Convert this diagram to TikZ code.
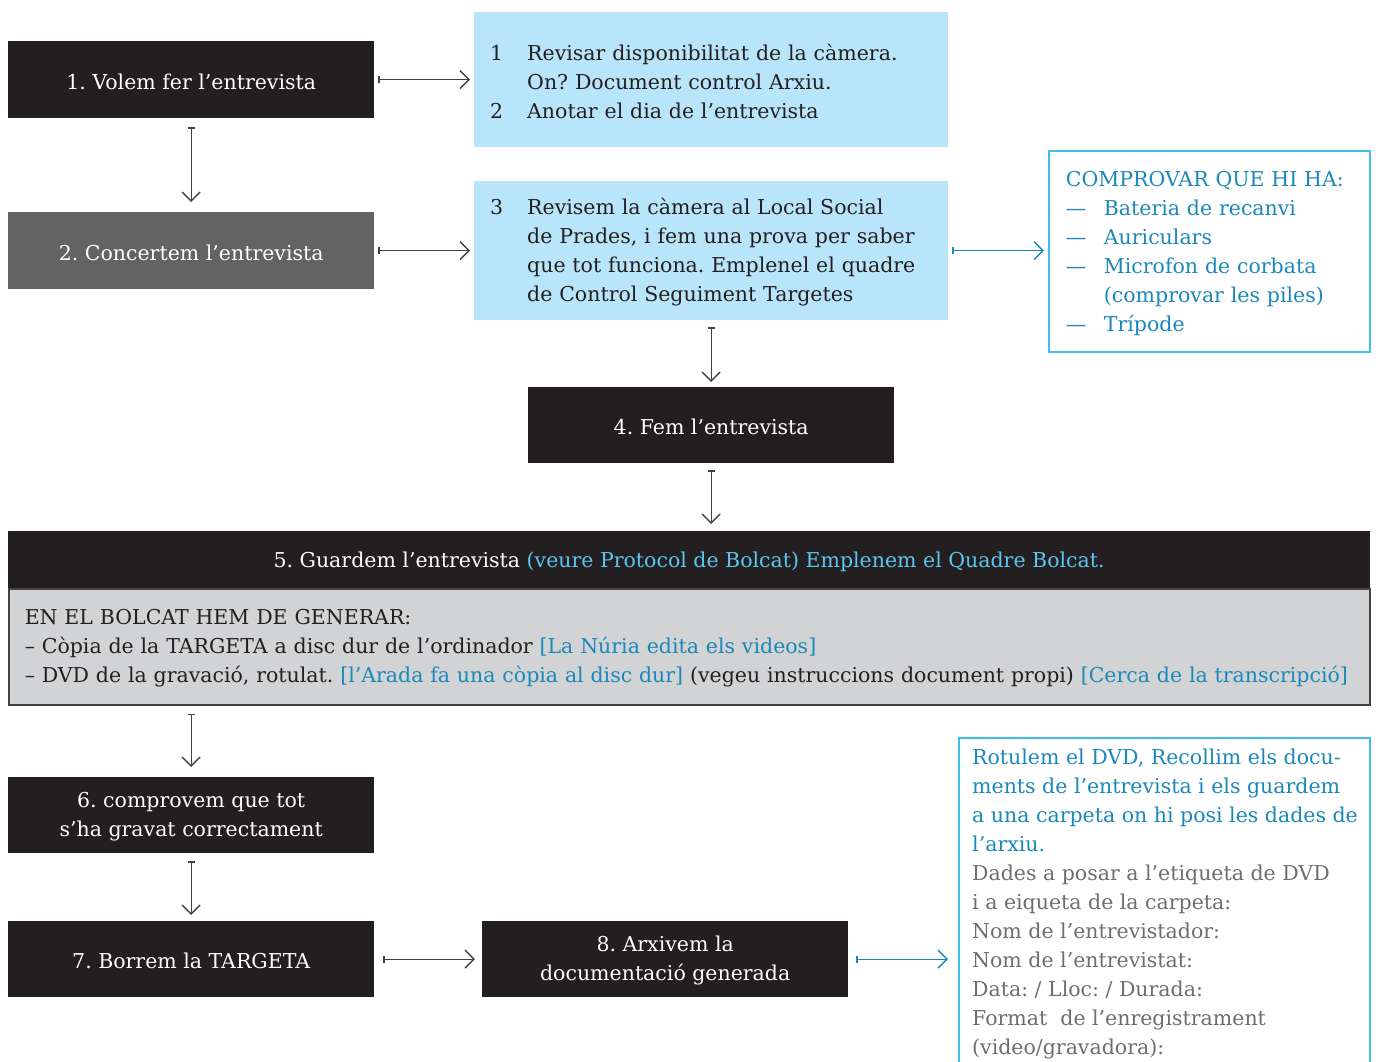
\documentclass[tikz,border=0pt]{standalone}
\usepackage{fontspec}
\setmainfont{DejaVu Serif}
\usetikzlibrary{arrows.meta}
\definecolor{dk}{HTML}{231F20}
\definecolor{grtwo}{HTML}{636364}
\definecolor{lb}{HTML}{B9E5FA}
\definecolor{bd}{HTML}{3EC0EF}
\definecolor{bl}{HTML}{1B88BA}
\definecolor{hb}{HTML}{5BC6EE}
\definecolor{bodyg}{HTML}{D1D3D4}
\definecolor{dg}{HTML}{6D6E70}
\newcommand\bodyfnt{\fontsize{20.5}{29}\selectfont\frenchspacing}
\tikzset{
 blk/.style={fill=dk, text=white, inner sep=0pt, minimum width=366pt, minimum height=77pt, anchor=north west, align=center, font=\bodyfnt},
 lbox/.style={fill=lb, text=dk, anchor=north west, inner xsep=16pt, inner ysep=0pt, text width=442pt, align=left, font=\bodyfnt},
 cbox/.style={draw=bd, line width=1.8pt, fill=white, anchor=north west, inner xsep=16pt, inner ysep=0pt, align=left, font=\bodyfnt, text=bl},
 arr/.style={draw=dk!85, line width=1.4pt, {Bar[width=7pt]}-{Straight Barb[length=9pt,width=18pt]}},
 barr/.style={arr, draw=bl},
}
\begin{document}
\begin{tikzpicture}[x=1pt,y=-1pt]
\useasboundingbox (0,0) rectangle (1381,1061);
\clip (0,0) rectangle (1381,1061);
\fill[white] (0,0) rectangle (1381,1061);
% row 1
\node[blk] (b1) at (8,41) {\rule{0pt}{19pt}1. Volem fer l’entrevista};
\node[lbox, minimum height=135pt] (ba) at (474,12) {\rule{0pt}{19pt}\makebox[37pt][l]{1}Revisar disponibilitat de la càmera.\\
\hspace*{37pt}On? Document control Arxiu.\\
\makebox[37pt][l]{2}Anotar el dia de l’entrevista};
% row 2
\node[blk, fill=grtwo] (b2) at (8,212) {\rule{0pt}{19pt}2. Concertem l’entrevista};
\node[lbox, minimum height=139pt] (bb) at (474,181) {\rule{0pt}{19pt}\makebox[37pt][l]{3}Revisem la càmera al Local Social\\
\hspace*{37pt}de Prades, i fem una prova per saber\\
\hspace*{37pt}que tot funciona. Emplenel el quadre\\
\hspace*{37pt}de Control Seguiment Targetes};
\node[cbox, minimum width=321pt, minimum height=201pt, text width=287pt] (bc) at (1048,150) {\rule{0pt}{19pt}COMPROVAR QUE HI HA:\\
\makebox[38pt][l]{—}Bateria de recanvi\\
\makebox[38pt][l]{—}Auriculars\\
\makebox[38pt][l]{—}Microfon de corbata\\
\hspace*{38pt}(comprovar les piles)\\
\makebox[38pt][l]{—}Trípode};
% row 4
\node[blk, minimum height=76pt] (b4) at (528,387) {\rule{0pt}{19pt}4. Fem l’entrevista};
% box 5
\node[fill=dk, draw=dk, line width=1.2pt, anchor=north west, minimum width=1361pt, minimum height=57pt, inner sep=0pt, text=white, font=\bodyfnt] (b5) at (8,531) {\rule{0pt}{19pt}5. Guardem l’entrevista {\color{hb}(veure Protocol de Bolcat) Emplenem el Quadre Bolcat.}};
\node[fill=bodyg, draw=dk!85, line width=1.5pt, anchor=north west, minimum height=116pt, inner xsep=16pt, inner ysep=0pt, text width=1329pt, align=left, text=dk, font=\bodyfnt] (b5b) at (8,588) {\rule{0pt}{19pt}EN EL BOLCAT HEM DE GENERAR:\\
– Còpia de la TARGETA a disc dur de l’ordinador {\color{bl}[La Núria edita els videos]}\\
– DVD de la gravació, rotulat. {\color{bl}[l’Arada fa una còpia al disc dur]} (vegeu instruccions document propi) {\color{bl}[Cerca de la transcripció]}};
% row 6-8
\node[blk, minimum height=76pt] (b6) at (8,777) {\rule{0pt}{19pt}6. comprovem que tot\\s’ha gravat correctament};
\node[blk, minimum height=76pt] (b7) at (8,921) {\rule{0pt}{19pt}7. Borrem la TARGETA};
\node[blk, minimum height=76pt] (b8) at (482,921) {\rule{0pt}{19pt}8. Arxivem la\\documentació generada};
\node[draw=bd, line width=1.8pt, fill=white, anchor=north west, minimum width=411pt, minimum height=400pt, inner sep=0pt] (bd) at (958,737) {};
\node[anchor=north west, inner sep=0pt, align=left, font=\bodyfnt, text=dg] (bdt) at (972,749) {{\color{bl}Rotulem el DVD, Recollim els docu-}\\
{\color{bl}ments de l’entrevista i els guardem}\\
{\color{bl}a una carpeta on hi posi les dades de}\\
{\color{bl}l’arxiu.}\\
Dades a posar a l’etiqueta de DVD\\
i a eiqueta de la carpeta:\\
Nom de l’entrevistador:\\
Nom de l’entrevistat:\\
Data: / Lloc: / Durada:\\
Format\ \ de l’enregistrament\\
(video/gravadora):};
% arrows
\draw[arr, shorten <=4pt, shorten >=4pt] (b1.east) -- (b1.east -| ba.west);
\draw[arr, shorten <=9pt, shorten >=10pt] (b1.south) -- (b2.north);
\draw[arr, shorten <=4pt, shorten >=4pt] (b2.east) -- (b2.east -| bb.west);
\draw[barr, shorten <=4pt, shorten >=4pt] (bb.east) -- (bb.east -| bc.west);
\draw[arr, shorten <=7pt, shorten >=5pt] (bb.south) -- (b4.north);
\draw[arr, shorten <=7pt, shorten >=7pt] (b4.south) -- (b4.south |- b5.north);
\draw[arr, shorten <=8pt, shorten >=10pt] (b6.north |- b5b.south) -- (b6.north);
\draw[arr, shorten <=8pt, shorten >=6pt] (b6.south) -- (b7.north);
\draw[arr, shorten <=9pt, shorten >=7pt] (b7.east) -- (b8.west);
\draw[barr, shorten <=8pt, shorten >=10pt] (b8.east) -- (b8.east -| bd.west);
\end{tikzpicture}
\end{document}
